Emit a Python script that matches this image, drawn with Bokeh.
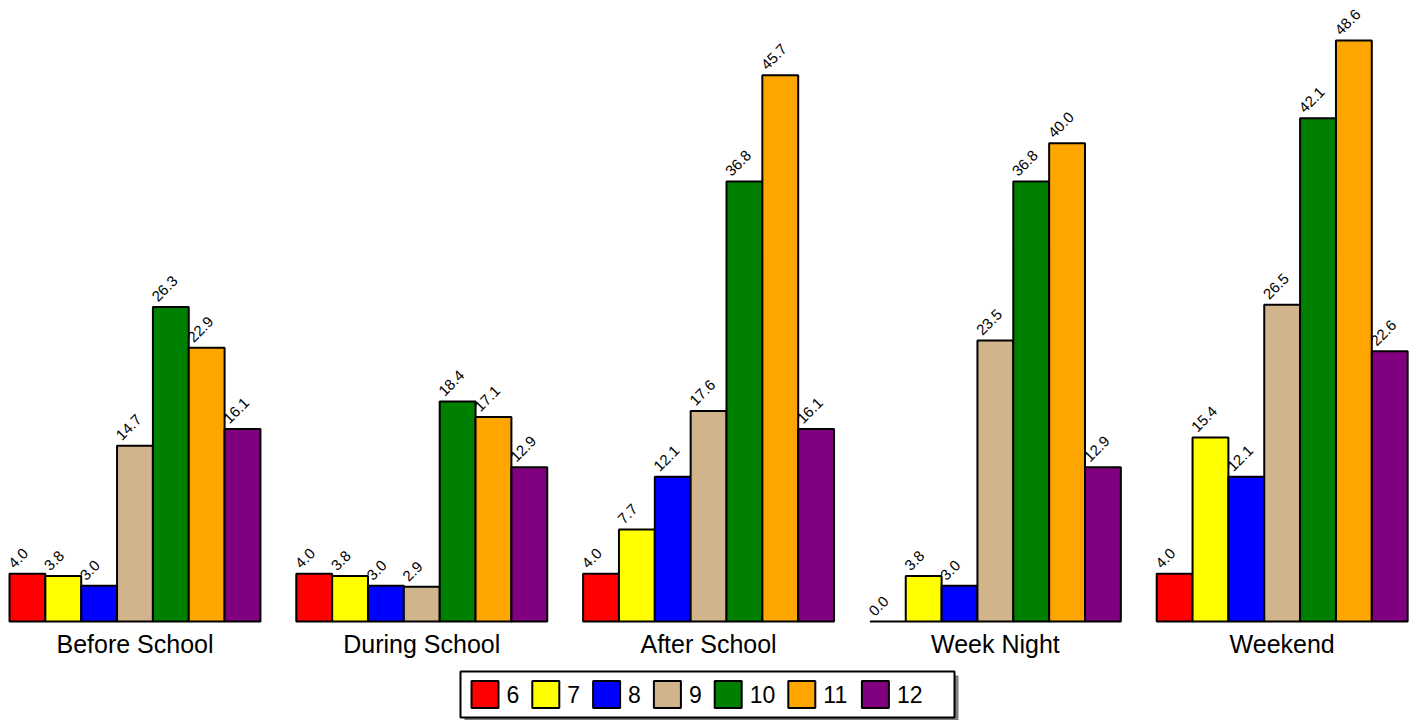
import math
from bokeh.plotting import figure
from bokeh.models import ColumnDataSource, Range1d, LabelSet
from bokeh.core.properties import value
from bokeh.embed import file_html
from bokeh.resources import INLINE

# ---------------- data ----------------
categories = ["Before School", "During School", "After School", "Week Night", "Weekend"]
grades = ["6", "7", "8", "9", "10", "11", "12"]
colors = ["#ff0000", "#ffff00", "#0000ff", "#d2b48c", "#008000", "#ffa500", "#800080"]
grade6 = [4.0, 4.0, 4.0, 0.0, 4.0]
grade7 = [3.8, 3.8, 7.7, 3.8, 15.4]
grade8 = [3.0, 3.0, 12.1, 3.0, 12.1]
grade9 = [14.7, 2.9, 17.6, 23.5, 26.5]
grade10 = [26.3, 18.4, 36.8, 36.8, 42.1]
grade11 = [22.9, 17.1, 45.7, 40.0, 48.6]
grade12 = [16.1, 12.9, 16.1, 12.9, 22.6]
series = [grade6, grade7, grade8, grade9, grade10, grade11, grade12]

# ---------------- layout helpers ----------------
W, H = 1416, 720
PXX = 35.85     # pixels per bar slot
PXY = 11.955    # pixels per unit of value
BASE = 621      # baseline, page pixels
LEFT = 9        # left edge of first bar, page pixels
X0 = -LEFT / PXX
x_end = X0 + W / PXX
y_end = BASE / PXY
y_start = (BASE - H) / PXY


def px_x(px):
    return px / PXX + X0


def px_y(py):
    return (BASE - py) / PXY


FONT = value("Liberation Sans")
GROUP = len(grades) + 1

p = figure(width=W, height=H, output_backend="svg", toolbar_location=None,
           x_range=Range1d(X0, x_end), y_range=Range1d(y_start, y_end),
           min_border=0, outline_line_color=None)
p.axis.visible = False
p.grid.visible = False
p.background_fill_color = "white"
p.border_fill_color = "white"

# bars and value labels
for i, (vals, col) in enumerate(zip(series, colors)):
    xs = [g * GROUP + i + 0.5 for g in range(len(categories))]
    src = ColumnDataSource(dict(
        x=xs, top=vals,
        lx=[x - 0.5 + 5 / PXX for x in xs],
        ly=[v + 4.5 / PXY for v in vals],
        txt=[f"{v:.1f}" for v in vals]))
    p.vbar(x="x", top="top", bottom=0, width=1.0, source=src,
           fill_color=col, line_color="black", line_width=2)
    p.add_layout(LabelSet(x="lx", y="ly", text="txt", source=src,
                          angle=45, angle_units="deg",
                          text_font=FONT, text_font_size="15px", text_color="black",
                          text_align="left", text_baseline="alphabetic"))

# category labels
cat_src = ColumnDataSource(dict(
    x=[g * GROUP + len(grades) / 2 for g in range(len(categories))],
    y=[px_y(643)] * len(categories),
    t=categories))
p.text(x="x", y="y", text="t", source=cat_src, text_font=FONT,
       text_font_size="25px", text_align="center", text_baseline="middle",
       text_color="black")

# legend (drawn manually, with drop shadow)
box_cx, box_cy, box_w, box_h = 707, 694, 494, 46
p.rect(x=[px_x(box_cx + 4)], y=[px_y(box_cy + 4)], width=box_w, height=box_h,
       width_units="screen", height_units="screen",
       fill_color="#808080", line_color=None)
p.rect(x=[px_x(box_cx)], y=[px_y(box_cy)], width=box_w, height=box_h,
       width_units="screen", height_units="screen",
       fill_color="white", line_color="black", line_width=2)

sq = 27
cur = 471
lx, ly, tx, ty = [], [], [], []
for g in grades:
    lx.append(px_x(cur + sq / 2))
    ly.append(px_y(box_cy))
    tx.append(px_x(cur + sq + 8))
    ty.append(px_y(box_cy))
    cur += sq + 9 + len(g) * 12.8 + 12
leg_src = ColumnDataSource(dict(x=lx, y=ly, tx=tx, ty=ty, c=colors, t=grades))
p.rect(x="x", y="y", width=sq, height=sq, width_units="screen", height_units="screen",
       fill_color="c", line_color="black", line_width=2, source=leg_src)
p.text(x="tx", y="ty", text="t", source=leg_src, text_font=FONT,
       text_font_size="23px", text_align="left", text_baseline="middle",
       text_color="black")

open("out.html", "w").write(file_html(p, INLINE))
